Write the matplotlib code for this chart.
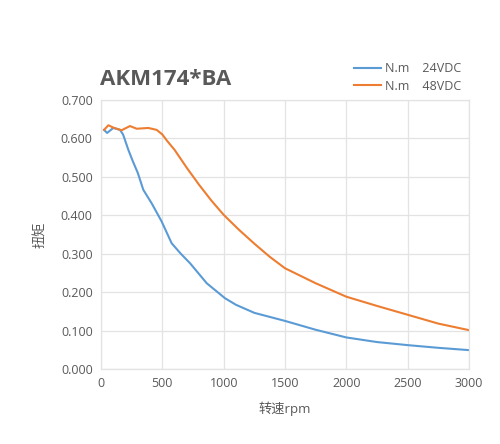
import matplotlib
matplotlib.use("Agg")
import matplotlib.pyplot as plt

rpm_24 = [25, 50, 100, 155, 180, 223, 260, 300, 345, 413, 494, 576, 650, 726, 862, 1011, 1100, 1250, 1500, 1750, 2000, 2250, 2500, 2750, 3000]
torque_24 = [0.622, 0.614, 0.627, 0.622, 0.610, 0.570, 0.540, 0.510, 0.466, 0.431, 0.384, 0.327, 0.300, 0.275, 0.223, 0.184, 0.167, 0.146, 0.125, 0.102, 0.082, 0.070, 0.062, 0.055, 0.049]

rpm_48 = [25, 60, 100, 168, 236, 291, 386, 454, 500, 540, 600, 700, 800, 900, 1000, 1125, 1250, 1375, 1500, 1750, 2000, 2250, 2500, 2750, 3000]
torque_48 = [0.622, 0.634, 0.628, 0.621, 0.632, 0.625, 0.627, 0.622, 0.610, 0.593, 0.570, 0.523, 0.479, 0.438, 0.401, 0.362, 0.326, 0.292, 0.262, 0.223, 0.188, 0.164, 0.141, 0.118, 0.101]

labels = ["N.m    24VDC", "N.m    48VDC"]
title = "AKM174*BA"
xlabel = "转速rpm"
ylabel = "扭矩"
xticks = [0, 500, 1000, 1500, 2000, 2500, 3000]
yticks = [0.0, 0.1, 0.2, 0.3, 0.4, 0.5, 0.6, 0.7]

plt.rcParams['font.family'] = ['Open Sans', 'Noto Sans CJK SC', 'DejaVu Sans']

fig = plt.figure(figsize=(5, 4.44), dpi=100)
ax = fig.add_axes([0.202, 0.169, 0.736, 0.606])

ax.plot(rpm_24, torque_24, color='#5B9BD5', lw=1.5, label=labels[0])
ax.plot(rpm_48, torque_48, color='#ED7D31', lw=1.5, label=labels[1])

ax.set_xlim(0, 3000)
ax.set_ylim(0, 0.7)
ax.set_xticks(xticks)
ax.set_yticks(yticks)
ax.set_yticklabels([f"{v:.3f}" for v in yticks])
ax.grid(True, color='#E3E3E3', lw=0.9)
ax.set_axisbelow(True)
for s in ax.spines.values():
    s.set_color('#E3E3E3')
    s.set_linewidth(0.9)
ax.tick_params(length=0, labelsize=9, colors='#595959', pad=6)

ax.set_xlabel(xlabel, fontsize=9.5, color='#595959', labelpad=8)
ax.set_ylabel(ylabel, fontsize=9.5, color='#595959', labelpad=10)

fig.text(0.2, 0.82, title, fontsize=16, fontweight='bold', color='#595959', ha='left', va='center')

leg = fig.legend(loc='upper right', bbox_to_anchor=(0.945, 0.885), frameon=False,
                 fontsize=9, handlelength=2.2, handletextpad=0.3, labelspacing=0.35)
for t in leg.get_texts():
    t.set_color('#595959')

fig.savefig('out.png', dpi=100, facecolor='white')
